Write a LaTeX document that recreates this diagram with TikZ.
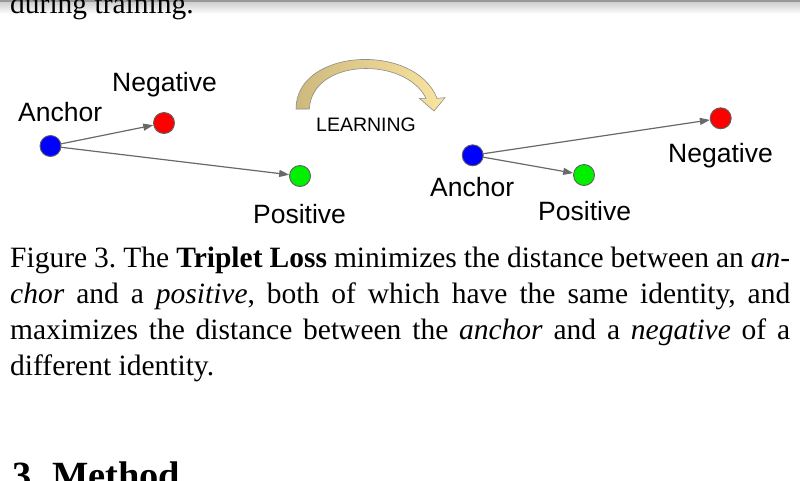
\documentclass[tikz,border=0pt]{standalone}
\usepackage{fontspec}
\setmainfont{Liberation Serif}
\newfontfamily\arialf{Liberation Sans}
\usetikzlibrary{arrows.meta}
\definecolor{cblue}{RGB}{0,0,255}
\definecolor{cred}{RGB}{255,0,0}
\definecolor{cgreen}{RGB}{0,240,0}
\definecolor{ringc}{RGB}{95,95,95}
\definecolor{linkc}{RGB}{105,105,105}
\definecolor{tanL}{RGB}{205,185,125}
\definecolor{tanR}{RGB}{250,228,160}
\frenchspacing
\begin{document}
\begin{tikzpicture}[x=1pt,y=-1pt,
  dot/.style={circle,draw=ringc,line width=0.9pt,minimum size=21pt,inner sep=0pt},
  lbl/.style={font=\arialf\fontsize{26.5}{30}\selectfont,inner sep=0pt,anchor=base west},
  capline/.style={font=\fontsize{29.5}{36}\selectfont,inner sep=0pt,anchor=base west},
  link/.style={draw=linkc,line width=1.2pt,-{Triangle[length=10pt,width=7pt]},shorten <=-1pt}]
\useasboundingbox (0,0) rectangle (800,480);
\fill[white] (0,0) rectangle (800,480);
% top shadow of the viewer
\shade[top color=black!22,bottom color=white] (0,0) rectangle (800,14);
\draw[black!40,line width=1.5pt] (0,0.75) -- (800,0.75);
% cut-off text above
\node[capline] (prev) at (10,13) {during training.};
% left configuration
\node[dot,fill=cblue] (a1) at (50.5,146) {};
\node[dot,fill=cred] (n1) at (164,123) {};
\node[dot,fill=cgreen] (p1) at (300,176) {};
\node[lbl] (la1) at (18,121.7) {Anchor};
\node[lbl] (ln1) at (112,91.7) {Negative};
\node[lbl] (lp1) at (253,223) {Positive};
\draw[link] (a1) -- (n1);
\draw[link] (a1) -- (p1);
% learning arrow
\shade[left color=tanL,right color=tanR,draw=black!45,line width=0.6pt]
  (296,109) .. controls (296,48) and (415,42) .. (437,98.3)
  -- (445,97.7) -- (434,111) -- (419.3,98.3) -- (426,98.3)
  .. controls (405,56) and (312,58) .. (309.3,109) -- cycle;
\node[lbl,font=\arialf\fontsize{19.5}{22}\selectfont] (learn) at (316,131.7) {LEARNING};
% right configuration
\node[dot,fill=cblue] (a2) at (472.7,155.3) {};
\node[dot,fill=cgreen] (p2) at (584,175) {};
\node[dot,fill=cred] (n2) at (720.7,118.3) {};
\node[lbl] (la2) at (430,196.7) {Anchor};
\node[lbl] (lp2) at (538,220) {Positive};
\node[lbl] (ln2) at (668,162) {Negative};
\draw[link] (a2) -- (n2);
\draw[link] (a2) -- (p2);
% caption
\node[capline] (c1) at (10,267) {\makebox[780pt][s]{Figure 3. The \textbf{Triplet Loss} minimizes the distance between an \textit{an}-}};
\node[capline] (c2) at (10,303) {\makebox[780pt][s]{\textit{chor} and a \textit{positive}, both of which have the same identity, and}};
\node[capline] (c3) at (10,339) {\makebox[780pt][s]{maximizes the distance between the \textit{anchor} and a \textit{negative} of a}};
\node[capline] (c4) at (10,375) {different identity.};
% next section heading (cut off)
\node[inner sep=0pt,anchor=base west,font=\fontsize{38.5}{44}\selectfont\bfseries] (sec) at (12,488) {3.\hspace{11pt}Method};
\end{tikzpicture}
\end{document}
